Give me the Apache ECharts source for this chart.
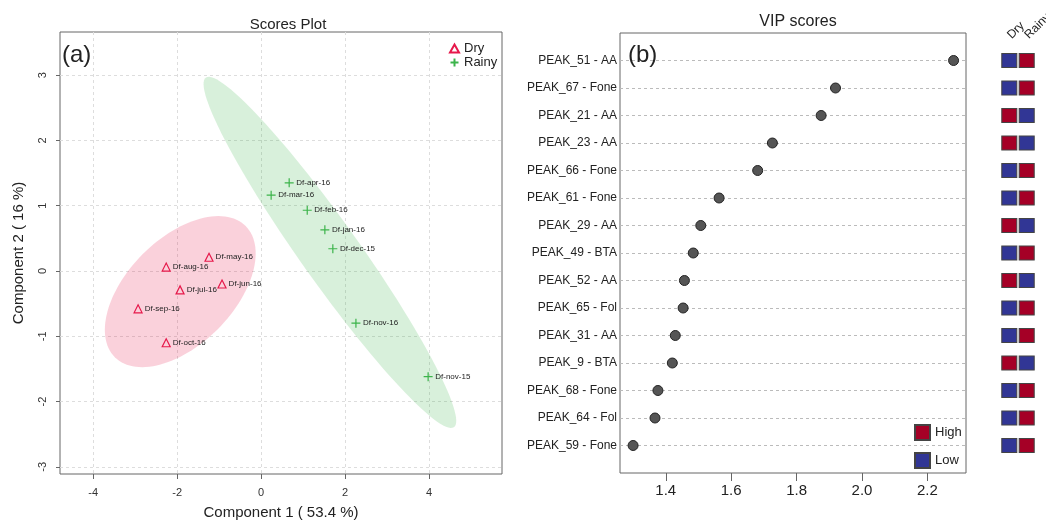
<!DOCTYPE html>
<html>
<head>
<meta charset="utf-8">
<script src="https://cdn.jsdelivr.net/npm/echarts@6/dist/echarts.min.js"></script>
<style>
  html, body { margin: 0; padding: 0; background: #fff; }
  #main { width: 1046px; height: 520px; }
</style>
</head>
<body>
<div id="main"></div>
<script>
// --- scores plot (a) ---
var dryNames = ['Df-may-16', 'Df-aug-16', 'Df-jun-16', 'Df-jul-16', 'Df-sep-16', 'Df-oct-16'];
var dryX = [-1.24, -2.26, -0.93, -1.93, -2.93, -2.26];
var dryY = [0.21, 0.06, -0.20, -0.29, -0.58, -1.10];

var rainyNames = ['Df-apr-16', 'Df-mar-16', 'Df-feb-16', 'Df-jan-16', 'Df-dec-15', 'Df-nov-16', 'Df-nov-15'];
var rainyX = [0.67, 0.24, 1.10, 1.52, 1.71, 2.26, 3.98];
var rainyY = [1.35, 1.16, 0.93, 0.63, 0.34, -0.80, -1.62];

var scoreXTicks = [-4, -2, 0, 2, 4];
var scoreYTicks = [-3, -2, -1, 0, 1, 2, 3];

// --- VIP scores (b) ---
var peaks = ['PEAK_51 - AA', 'PEAK_67 - Fone', 'PEAK_21 - AA', 'PEAK_23 - AA', 'PEAK_66 - Fone',
             'PEAK_61 - Fone', 'PEAK_29 - AA', 'PEAK_49 - BTA', 'PEAK_52 - AA', 'PEAK_65 - Fol',
             'PEAK_31 - AA', 'PEAK_9 - BTA', 'PEAK_68 - Fone', 'PEAK_64 - Fol', 'PEAK_59 - Fone'];
var vip = [2.28, 1.919, 1.875, 1.726, 1.681, 1.563, 1.507, 1.484, 1.457, 1.453, 1.429, 1.420, 1.376, 1.367, 1.300];
var vipTicks = [1.4, 1.6, 1.8, 2.0, 2.2];

var groups = ['Dry', 'Rainy'];
var dryLevel   = ['Low', 'Low', 'High', 'High', 'Low', 'Low', 'High', 'Low', 'High', 'Low', 'Low', 'High', 'Low', 'Low', 'Low'];
var rainyLevel = ['High', 'High', 'Low', 'Low', 'High', 'High', 'Low', 'High', 'Low', 'High', 'High', 'Low', 'High', 'High', 'High'];

var FONT = '"Liberation Sans", Arial, Helvetica, sans-serif';
var plusPath = 'path://M0,5L10,5M5,0L5,10';
var rowIndex = peaks.map(function (p, i) { return i + 1; });

// 95% confidence ellipse (same as R ellipse::ellipse on the covariance)
function ellipsePoints(xs, ys) {
  var n = xs.length, mx = 0, my = 0;
  for (var i = 0; i < n; i++) { mx += xs[i]; my += ys[i]; }
  mx /= n; my /= n;
  var sxx = 0, syy = 0, sxy = 0;
  for (i = 0; i < n; i++) {
    sxx += (xs[i] - mx) * (xs[i] - mx);
    syy += (ys[i] - my) * (ys[i] - my);
    sxy += (xs[i] - mx) * (ys[i] - my);
  }
  var sx = Math.sqrt(sxx / (n - 1)), sy = Math.sqrt(syy / (n - 1));
  var r = (sxy / (n - 1)) / (sx * sy);
  var d = Math.acos(r), t = Math.sqrt(5.991465);
  var pts = [];
  for (var k = 0; k < 120; k++) {
    var a = k / 120 * 2 * Math.PI;
    pts.push([mx + t * sx * Math.cos(a + d / 2), my + t * sy * Math.cos(a - d / 2)]);
  }
  return { center: [mx, my], pts: pts };
}

function ellipseSeries(xs, ys, fill) {
  var e = ellipsePoints(xs, ys);
  return {
    type: 'custom', xAxisIndex: 0, yAxisIndex: 0, silent: true, z: 1,
    data: [e.center],
    renderItem: function (params, api) {
      return {
        type: 'polygon',
        shape: { points: e.pts.map(function (p) { return api.coord(p); }) },
        style: { fill: fill }
      };
    }
  };
}

function scoreData(names, xs, ys) {
  return names.map(function (nm, i) { return { name: nm, value: [xs[i], ys[i]] }; });
}

function levelData(level) {
  var out = [];
  for (var i = 0; i < peaks.length; i++) {
    if (dryLevel[i] === level) out.push([groups[0], i + 1]);
    if (rainyLevel[i] === level) out.push([groups[1], i + 1]);
  }
  return out;
}

var pointLabel = { show: true, position: 'right', distance: 2, formatter: '{b}', fontSize: 8, color: '#222', fontFamily: FONT };

var chart = echarts.init(document.getElementById('main'));
chart.setOption({
  animation: false,
  textStyle: { fontFamily: FONT },
  title: [
    { text: 'Scores Plot', left: 283, top: 12, textAlign: 'center', textStyle: { fontSize: 15, fontWeight: 'normal', color: '#222' } },
    { text: 'VIP scores', left: 793, top: 9, textAlign: 'center', textStyle: { fontSize: 16, fontWeight: 'normal', color: '#222' } },
    { text: '(a)', left: 57, top: 38, textStyle: { fontSize: 24, fontWeight: 'normal', color: '#222' } },
    { text: '(b)', left: 623, top: 38, textStyle: { fontSize: 24, fontWeight: 'normal', color: '#222' } }
  ],
  legend: [
    {
      data: [{ name: 'Dry', icon: 'triangle' }, { name: 'Rainy', icon: plusPath }],
      orient: 'vertical', left: 444, top: 37, itemWidth: 9, itemHeight: 8, itemGap: 1,
      textStyle: { fontSize: 13, color: '#222' }, selectedMode: false
    },
    {
      data: ['High', 'Low'], icon: 'rect',
      orient: 'vertical', left: 909, top: 419, itemWidth: 15, itemHeight: 15, itemGap: 11,
      textStyle: { fontSize: 13, color: '#222' }, selectedMode: false
    }
  ],
  grid: [
    { left: 60, top: 32, width: 442, height: 442, show: true, borderColor: '#666', borderWidth: 1, outerBoundsMode: 'none' },
    { left: 620, top: 33, width: 346, height: 440, show: true, borderColor: '#666', borderWidth: 1, outerBoundsMode: 'none' },
    { left: 1000.6, top: 33, width: 34.8, height: 440, outerBoundsMode: 'none' }
  ],
  xAxis: [
    {
      gridIndex: 0, type: 'value', min: -4.79, max: 5.74,
      name: 'Component 1 ( 53.4 %)', nameLocation: 'middle', nameGap: 31, nameMoveOverlap: false,
      nameTextStyle: { fontSize: 15, color: '#222' },
      axisLine: { show: false, onZero: false },
      axisTick: { show: true, length: 5, customValues: scoreXTicks, lineStyle: { color: '#666' } },
      axisLabel: { customValues: scoreXTicks, fontSize: 11, color: '#333', margin: 13 },
      splitLine: { show: true, lineStyle: { color: '#ddd', type: [3, 3] } }
    },
    {
      gridIndex: 1, type: 'value', min: 1.26, max: 2.318,
      axisLine: { show: false, onZero: false },
      axisTick: { show: true, length: 8, customValues: vipTicks, lineStyle: { color: '#666' } },
      axisLabel: {
        customValues: vipTicks, fontSize: 15, color: '#222', margin: 10,
        formatter: function (v) { return v.toFixed(1); }
      },
      splitLine: { show: false }
    },
    {
      gridIndex: 2, type: 'category', data: groups, position: 'top',
      axisLine: { show: false, onZero: false }, axisTick: { show: false },
      axisLabel: { interval: 0, rotate: -45, fontSize: 12, color: '#222', margin: -4 },
      splitLine: { show: false }
    }
  ],
  yAxis: [
    {
      gridIndex: 0, type: 'value', min: -3.11, max: 3.66,
      name: 'Component 2 ( 16 %)', nameLocation: 'middle', nameGap: 34, nameRotate: 90,
      nameTextStyle: { fontSize: 15, color: '#222' },
      axisLine: { show: false, onZero: false },
      axisTick: { show: true, length: 4, customValues: scoreYTicks, lineStyle: { color: '#666' } },
      axisLabel: { customValues: scoreYTicks, fontSize: 11, color: '#333', margin: 12, rotate: 90 },
      splitLine: { show: true, lineStyle: { color: '#ddd', type: [3, 3] } }
    },
    {
      gridIndex: 1, type: 'value', min: 0, max: 16, inverse: true,
      axisLine: { show: false, onZero: false }, axisTick: { show: false, customValues: rowIndex },
      axisLabel: {
        customValues: rowIndex, fontSize: 12, color: '#222', margin: 3,
        formatter: function (v) { return peaks[v - 1]; }
      },
      splitLine: { show: true, lineStyle: { color: '#bbb', type: [3, 3] } }
    },
    {
      gridIndex: 2, type: 'value', min: 0, max: 16, inverse: true, show: false
    }
  ],
  series: [
    ellipseSeries(dryX, dryY, 'rgba(230, 25, 75, 0.2)'),
    ellipseSeries(rainyX, rainyY, 'rgba(60, 180, 75, 0.2)'),
    {
      name: 'Dry', type: 'scatter', xAxisIndex: 0, yAxisIndex: 0, z: 3,
      symbol: 'triangle', symbolSize: 8,
      itemStyle: { color: 'rgba(0,0,0,0)', borderColor: '#e6194b', borderWidth: 1.2, opacity: 1 },
      label: pointLabel,
      data: scoreData(dryNames, dryX, dryY)
    },
    {
      name: 'Rainy', type: 'scatter', xAxisIndex: 0, yAxisIndex: 0, z: 3,
      symbol: plusPath, symbolSize: 9,
      itemStyle: { color: 'rgba(0,0,0,0)', borderColor: '#3cb44b', borderWidth: 1.2, opacity: 1 },
      label: pointLabel,
      data: scoreData(rainyNames, rainyX, rainyY)
    },
    {
      name: 'VIP', type: 'scatter', xAxisIndex: 1, yAxisIndex: 1, z: 3,
      symbol: 'circle', symbolSize: 10,
      itemStyle: { color: '#555', borderColor: '#222', borderWidth: 1, opacity: 1 },
      data: vip.map(function (v, i) { return [v, i + 1]; })
    },
    {
      name: 'High', type: 'scatter', xAxisIndex: 2, yAxisIndex: 2,
      symbol: 'rect', symbolSize: [15, 14],
      itemStyle: { color: '#a50026', borderColor: '#444', borderWidth: 1, opacity: 1 },
      data: levelData('High')
    },
    {
      name: 'Low', type: 'scatter', xAxisIndex: 2, yAxisIndex: 2,
      symbol: 'rect', symbolSize: [15, 14],
      itemStyle: { color: '#313695', borderColor: '#444', borderWidth: 1, opacity: 1 },
      data: levelData('Low')
    }
  ]
});
</script>
</body>
</html>
